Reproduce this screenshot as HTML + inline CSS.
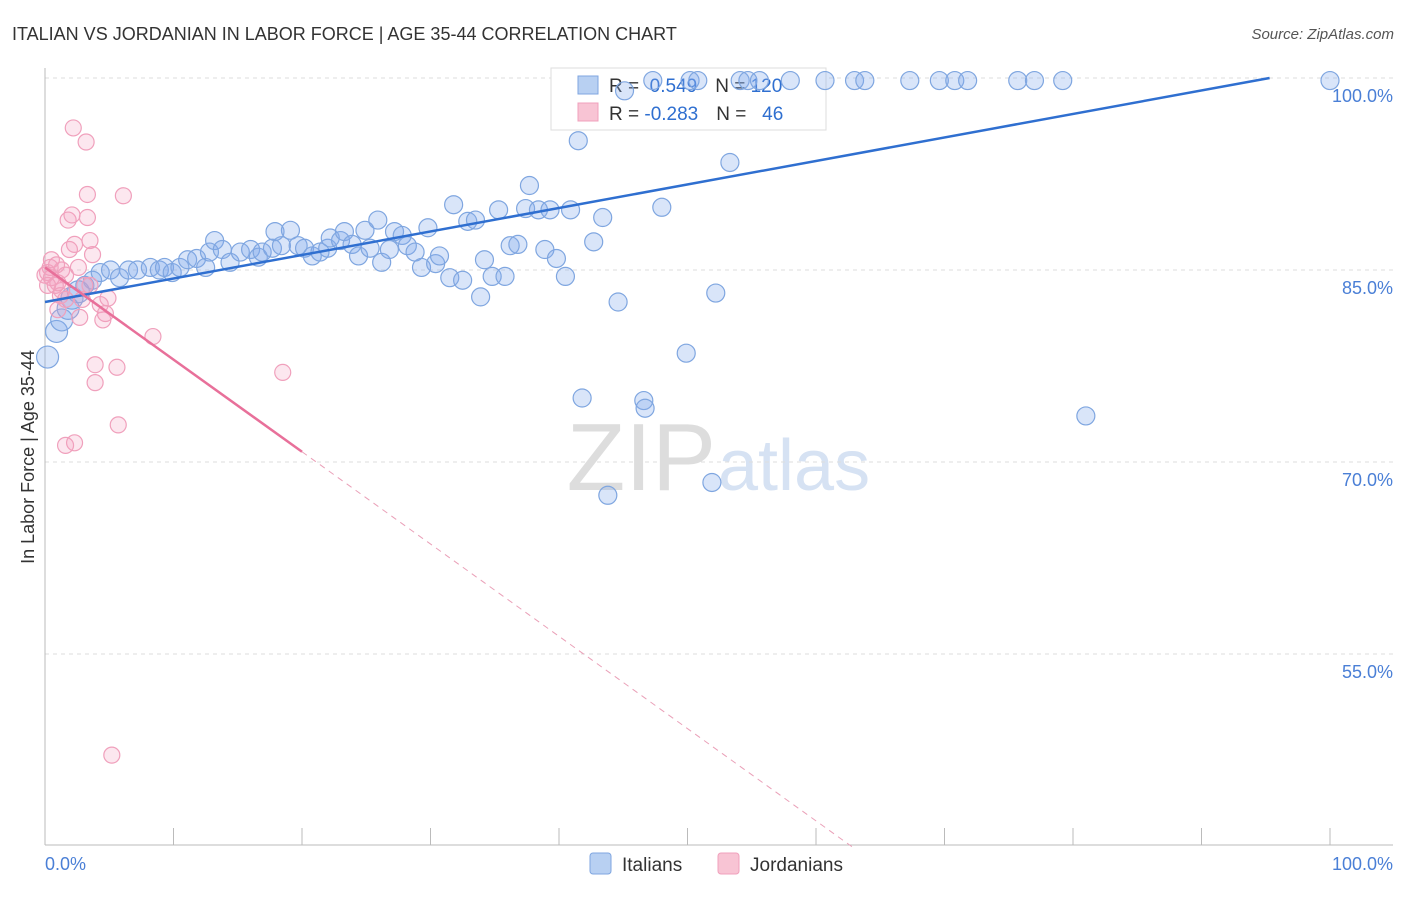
<!DOCTYPE html>
<html><head><meta charset="utf-8"><style>
body{margin:0;background:#fff;font-family:"Liberation Sans",sans-serif}
svg text{font-family:"Liberation Sans",sans-serif}
</style></head><body>
<svg width="1406" height="892" xmlns="http://www.w3.org/2000/svg">
<text x="12" y="40" font-size="18" fill="#333">ITALIAN VS JORDANIAN IN LABOR FORCE | AGE 35-44 CORRELATION CHART</text>
<text x="1394" y="39" font-size="15" fill="#555" font-style="italic" text-anchor="end">Source: ZipAtlas.com</text>
<text x="716" y="490" font-size="96" fill="#ddd" text-anchor="end" font-family="Liberation Serif">ZIP</text>
<text x="718" y="490" font-size="72" fill="#d6e2f3">atlas</text>
<g id="grid"></g>
<g id="axes"></g>
<g>
<rect x="551" y="68" width="275" height="62" fill="#fff" stroke="#ddd"/>
<rect x="578" y="76" width="20" height="18" fill="#b8d0f2" stroke="#7fa6e0"/>
<rect x="578" y="103" width="20" height="18" fill="#f8c4d4" stroke="#f0a0bc"/>
<text x="609" y="92" font-size="19" fill="#333">R = <tspan fill="#2f6fd0">&#160;0.549</tspan><tspan dx="18">N = </tspan><tspan fill="#2f6fd0">120</tspan></text>
<text x="609" y="120" font-size="19" fill="#333">R = <tspan fill="#2f6fd0">-0.283</tspan><tspan dx="18">N = </tspan><tspan fill="#2f6fd0">&#160;&#160;46</tspan></text>
</g>
<g id="pts"></g>
<g id="lines"></g>
<text x="34" y="457" font-size="18" fill="#333" text-anchor="middle" transform="rotate(-90 34 457)">In Labor Force | Age 35-44</text>
<g>
<rect x="590" y="853" width="21" height="21" rx="3" fill="#b8d0f2" stroke="#7fa6e0"/>
<text x="622" y="871" font-size="19" fill="#333">Italians</text>
<rect x="718" y="853" width="21" height="21" rx="3" fill="#f8c4d4" stroke="#f0a0bc"/>
<text x="750" y="871" font-size="19" fill="#333">Jordanians</text>
</g>
</svg>
<script>
const blueX=[0.2,0.9,1.3,1.8,2.1,2.6,3.1,3.7,4.3,5.1,5.8,6.5,7.2,8.2,8.9,9.3,9.9,10.5,11.1,11.8,12.5,12.8,13.2,13.8,14.4,15.2,16.0,16.6,16.9,17.7,18.4,17.9,19.1,19.7,20.2,20.8,21.4,22.0,22.2,23.0,23.3,23.9,24.4,24.9,25.3,25.9,26.2,26.8,27.2,27.8,28.2,28.8,29.3,29.8,30.4,30.7,31.5,31.8,32.5,32.9,33.5,33.9,34.2,34.8,35.3,35.8,36.2,36.8,37.4,37.7,38.4,38.9,39.3,39.8,40.5,40.9,41.5,41.8,42.7,43.4,43.8,44.6,45.1,46.6,46.7,47.3,48.0,49.9,50.2,50.8,51.9,52.2,53.3,54.1,54.7,55.6,58.0,60.7,63.0,63.8,67.3,69.6,70.8,71.8,75.7,77.0,79.2,81.0,100];
const blueY=[78.2,80.2,81.1,82.0,82.8,83.3,83.8,84.2,84.8,85.0,84.4,85.0,85.0,85.2,85.0,85.2,84.8,85.2,85.8,85.9,85.2,86.4,87.3,86.6,85.6,86.4,86.6,86.0,86.4,86.7,86.9,88.0,88.1,86.9,86.7,86.1,86.4,86.7,87.5,87.3,88.0,87.0,86.1,88.1,86.7,88.9,85.6,86.6,88.0,87.7,86.9,86.4,85.2,88.3,85.5,86.1,84.4,90.1,84.2,88.8,88.9,82.9,85.8,84.5,89.7,84.5,86.9,87.0,89.8,91.6,89.7,86.6,89.7,85.9,84.5,89.7,95.1,75.0,87.2,89.1,67.4,82.5,99.0,74.8,74.2,99.8,89.9,78.5,99.8,99.8,68.4,83.2,93.4,99.8,99.8,99.8,99.8,99.8,99.8,99.8,99.8,99.8,99.8,99.8,99.8,99.8,99.8,73.6,99.8];
const pinkX=[0.2,0.5,0.8,1.0,1.2,1.3,1.6,1.8,2.1,2.2,2.3,2.6,2.9,3.2,3.3,3.3,3.5,3.7,3.9,3.9,4.3,4.5,4.9,4.7,5.2,5.6,5.7,6.1,8.4,18.5,1.6,2.3,0.4,0.5,1.0,1.3,1.9,2.7,3.5,0,0.2,0.9,1.6,3.1];
const pinkY=[84.8,85.8,83.8,81.9,83.0,83.4,84.6,88.9,89.3,96.1,87.0,85.2,82.7,95.0,90.9,89.1,87.3,86.2,77.6,76.2,82.3,81.1,82.8,81.6,47.1,77.4,72.9,90.8,79.8,77.0,71.3,71.5,85.2,84.4,84.0,85.0,86.6,81.3,83.8,84.6,83.8,85.4,82.7,83.8];
const yTicks=[100,85,70,55];
const xTickCount=10;
const blueTrend=[[0,82.5],[95.3,100]];
const pinkTrend=[[0,85.2],[20,70.8]];
const pinkDash=[[20,70.8],[63,39.8]];
const NS="http://www.w3.org/2000/svg";
const xs=v=>45+v*12.85, ys=v=>78+(100-v)*12.8;
function mk(tag,attrs,parent){const e=document.createElementNS(NS,tag);for(const k in attrs)e.setAttribute(k,attrs[k]);document.getElementById(parent).appendChild(e);return e;}
yTicks.forEach(t=>{
 const l=mk('line',{x1:45,x2:1393,y1:ys(t),y2:ys(t),stroke:'#ddd','stroke-dasharray':'4,4'},'grid');
 
 
 const tx=mk('text',{x:1393,y:ys(t)+24,'font-size':18,fill:'#4a7fd6','text-anchor':'end'},'grid');
 tx.textContent=t.toFixed(1)+'%';
 
 
});
let ax=mk('line',{x1:45,x2:1393,y1:845,y2:845,stroke:'#bbb'},'axes');


let ay=mk('line',{x1:45,x2:45,y1:68,y2:845,stroke:'#bbb'},'axes');


for(let i=0;i<=xTickCount;i++){const t=mk('line',{x1:xs(i*10),x2:xs(i*10),y1:828,y2:845,stroke:'#bbb'},'axes');
 
 }
[['0.0%',45,'start'],['100.0%',1393,'end']].forEach(a=>{const t=mk('text',{x:a[1],y:870,'font-size':18,fill:'#4a7fd6','text-anchor':a[2]},'axes');t.textContent=a[0];
 
 });
blueX.forEach((x,i)=>{const c=mk('circle',{cx:xs(x),cy:ys(blueY[i]),r:x<3?11:9,fill:'rgba(130,170,235,0.3)',stroke:'#7fa6e0','stroke-width':1.2},'pts');
 
 });
pinkX.forEach((x,i)=>{const c=mk('circle',{cx:xs(x),cy:ys(pinkY[i]),r:8,fill:'rgba(245,160,190,0.25)',stroke:'#f0a0bc','stroke-width':1.2},'pts');
 
 });
function ln(p,st,name){const l=mk('line',Object.assign({x1:xs(p[0][0]),y1:ys(p[0][1]),x2:xs(p[1][0]),y2:ys(p[1][1])},st),'lines');
 
 }
ln(blueTrend,{stroke:'#2f6fd0','stroke-width':2.5},'italians-trend-line');
ln(pinkTrend,{stroke:'#e8709a','stroke-width':2.5},'jordanians-trend-line');
ln(pinkDash,{stroke:'#eaa0b8','stroke-width':1,'stroke-dasharray':'6,5'},'jordanians-trend-extension');
</script>
</body></html>
